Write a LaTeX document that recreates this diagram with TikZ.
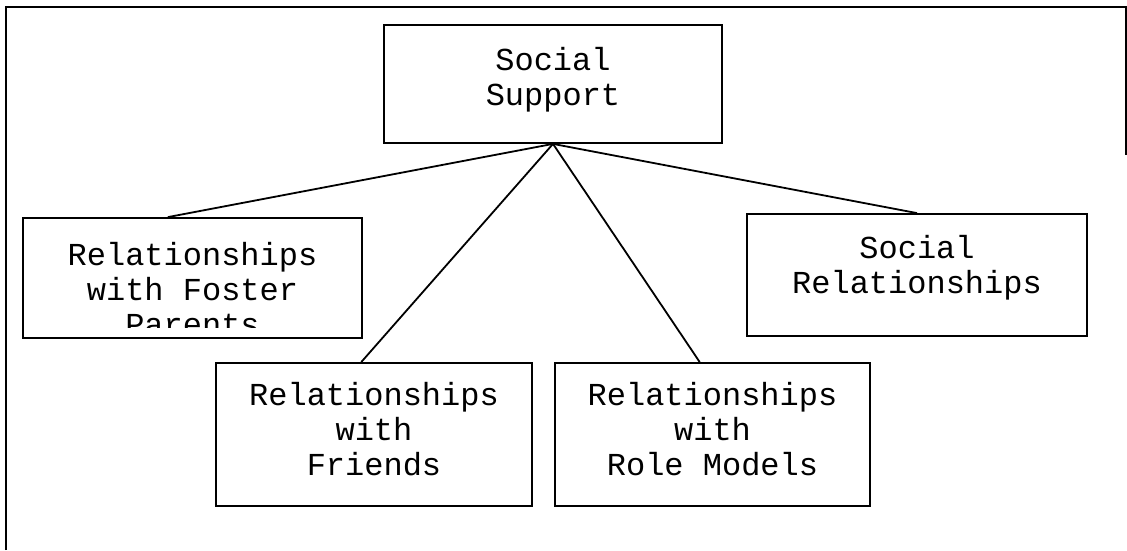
\documentclass[tikz,border=0pt]{standalone}
\usepackage{fontspec}
\setmonofont{Liberation Mono}
\usetikzlibrary{positioning}

\begin{document}
\begin{tikzpicture}[x = 1pt, y = -1pt, line width = 1.8pt,
	box/.style = {draw, rectangle, inner sep = 0pt},
	boxtext/.style = {align = center, inner sep = 0pt,
		font = \ttfamily\fontsize{32}{35}\selectfont}]

	\useasboundingbox (0, 0) rectangle (1127, 550);

	% Page frame (open at the bottom, as scanned)

	\draw (6, 550) -- (6, 7) -- (1126, 7) -- (1126, 155);

	% Boxes

	\node [box, minimum width = 338pt, minimum height = 118pt] (support) at (553, 84) {};
	\node [box, minimum width = 339pt, minimum height = 120pt] (foster) at (192.5, 278) {};
	\node [box, minimum width = 316pt, minimum height = 143pt] (friends) at (374, 434.5) {};
	\node [box, minimum width = 315pt, minimum height = 143pt] (models) at (712.5, 434.5) {};
	\node [box, minimum width = 340pt, minimum height = 122pt] (social) at (917, 275) {};

	% Box texts

	\node [boxtext, below = 22pt of support.north] (support-text) {Social\\Support};
	\node [boxtext, below = 19pt of friends.north] (friends-text) {Relationships\\with\\Friends};
	\node [boxtext, below = 19pt of models.north] (models-text) {Relationships\\with\\Role Models};
	\node [boxtext, below = 21pt of social.north] (social-text) {Social\\Relationships};

	% Last line of this box is cut off by the box

	\begin{scope}
		\clip (23, 218) rectangle (362, 327);
		\node [boxtext, below = 24pt of foster.north] (foster-text) {Relationships\\with Foster\\Parents};
	\end{scope}

	% Connectors

	\draw (support.south) -- (foster.112);
	\draw (support.south) -- (friends.100);
	\draw (support.south) -- (models.100);
	\draw (support.south) -- (social.north);

\end{tikzpicture}
\end{document}
